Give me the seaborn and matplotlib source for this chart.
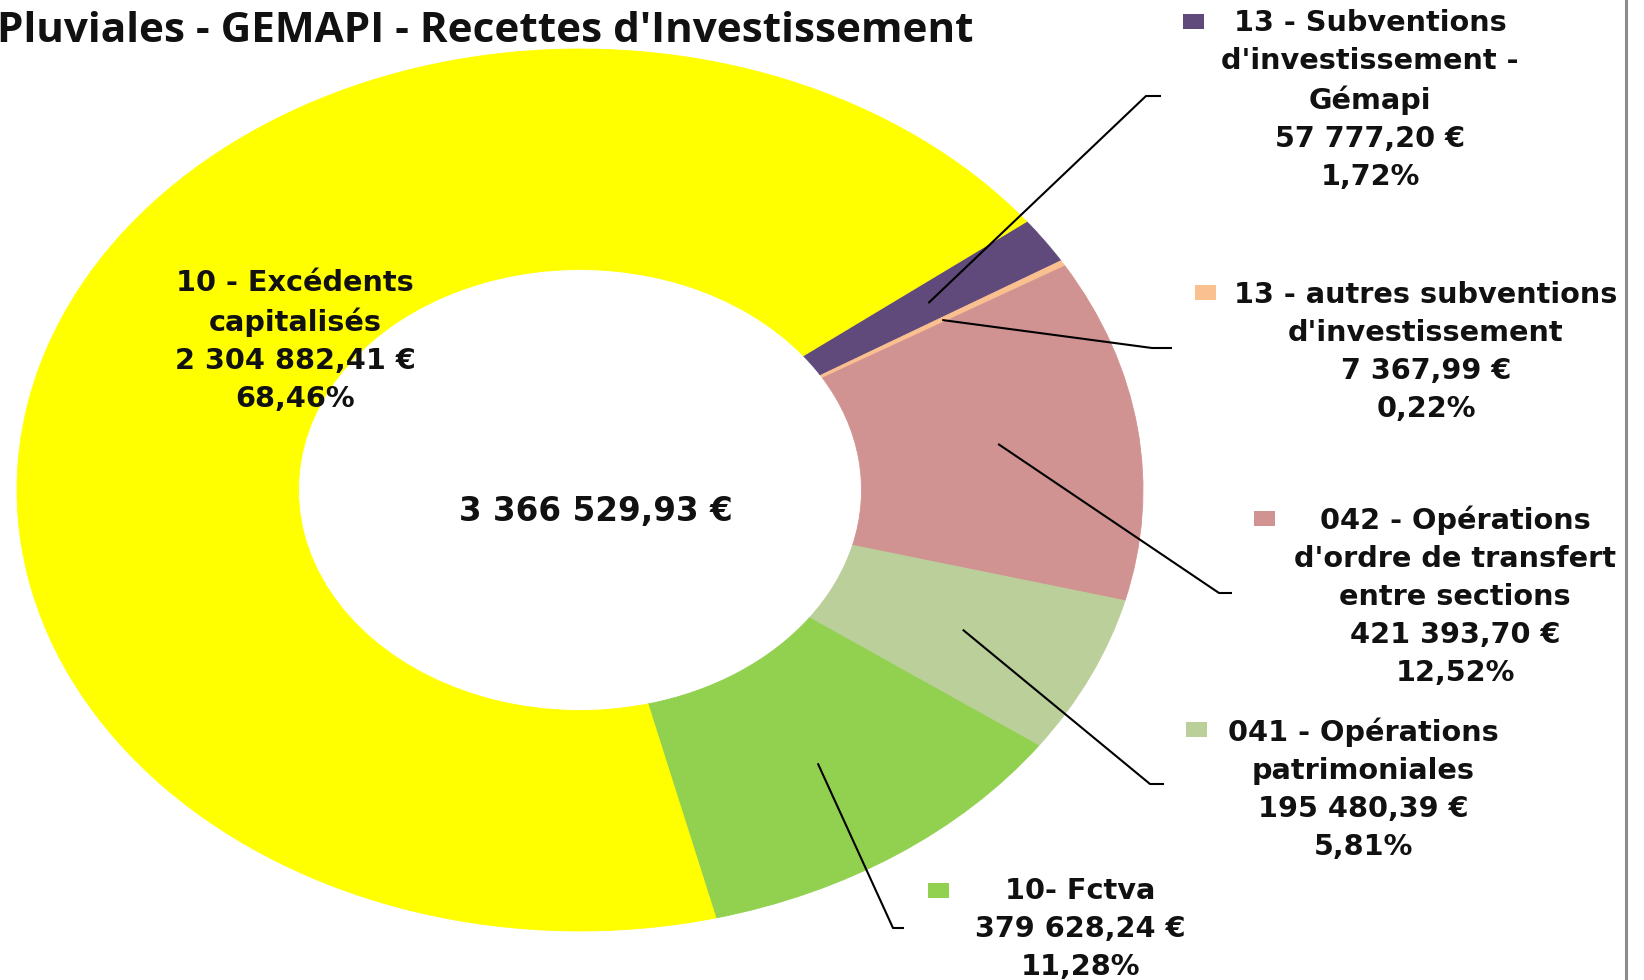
import numpy as np
import matplotlib
matplotlib.use('Agg')
import matplotlib.pyplot as plt
from matplotlib.lines import Line2D
from matplotlib.patches import Rectangle
import seaborn as sns

# données (ordre horaire à partir de 1h30)
categories = ["13 - Subventions\nd'investissement -\nGémapi",
              "13 - autres subventions\nd'investissement",
              "042 - Opérations\nd'ordre de transfert\nentre sections",
              "041 - Opérations\npatrimoniales",
              "10- Fctva",
              "10 - Excédents\ncapitalisés"]
montants = [57777.20, 7367.99, 421393.70, 195480.39, 379628.24, 2304882.41]
couleurs = ['#604A7B', '#FAC090', '#D19392', '#BACF99', '#92D050', '#FFFF00']
titre = "Pluviales - GEMAPI - Recettes d'Investissement"

# position des étiquettes (pixels, origine en haut à gauche)
lab_xy = [(1370, 100), (1426, 352), (1455, 596), (1363, 789), (1080, 929), (295, 341)]
key_xy = [(1183, 14), (1195, 285), (1254, 511), (1186, 722), (928, 883), None]
coude = [((1146, 96), (1161, 96)), ((1152, 348), (1172, 348)), ((1219, 593), (1232, 593)),
         ((1150, 784), (1164, 784)), ((893, 928), (904, 928)), None]

W, H = 1644, 980
sns.set_theme(style="white")
plt.rcParams['font.family'] = ['DejaVu Sans']

def fr_eur(v):
    s = f"{v:,.2f}".replace(",", " ").replace(".", ",")
    return s + " €"

total = sum(montants)
parts = [m / total * 100 for m in montants]

fig = plt.figure(figsize=(W / 100, H / 100), dpi=100)
ax = fig.add_axes([0, 0, 1, 1])
wedges, _ = ax.pie(montants, colors=couleurs, startangle=37.5, counterclock=False,
                   radius=1, wedgeprops=dict(width=0.5, linewidth=0.6))
for w in wedges:
    w.set_edgecolor(w.get_facecolor())

# ellipse étirée comme dans l'original
cx, cy, rx, ry = 580, 490, 563, 441
ax.set_aspect('auto')
ax.set_xlim(-cx / rx, (W - cx) / rx)
ax.set_ylim(-(H - cy) / ry, cy / ry)
ax.axis('off')

def px2data(p):
    return ((p[0] - cx) / rx, (cy - p[1]) / ry)

for i, w in enumerate(wedges):
    txt = f"{categories[i]}\n{fr_eur(montants[i])}\n{parts[i]:.2f}%".replace(".", ",")
    lx, ly = lab_xy[i]
    fig.text(lx / W, 1 - ly / H, txt, ha='center', va='center', multialignment='center',
             fontsize=20.7, fontweight='bold', linespacing=1.45, color='#111111')
    if key_xy[i] is not None:
        kx, ky = key_xy[i]
        fig.add_artist(Rectangle((kx / W, 1 - (ky + 15) / H), 21 / W, 15 / H,
                                 transform=fig.transFigure, color=couleurs[i], lw=0))
    if coude[i] is not None:
        ang = np.deg2rad((w.theta1 + w.theta2) / 2)
        ax_, ay_ = 0.75 * np.cos(ang), 0.75 * np.sin(ang)
        (ex, ey), (fx, fy) = px2data(coude[i][0]), px2data(coude[i][1])
        ax.plot([ax_, ex, fx], [ay_, ey, fy], color='black', lw=1.5, solid_capstyle='butt')

ax.text(*px2data((596, 511)), fr_eur(total), ha='center', va='center',
        fontsize=23.5, fontweight='bold', color='#111111')

fig.text(-3 / W, 1 - 42 / H, titre, ha='left', va='baseline', fontsize=30.4,
         fontweight='bold', family=['Open Sans', 'DejaVu Sans'], color='#111111')

fig.add_artist(Line2D([1626 / W, 1626 / W], [0, 1], transform=fig.transFigure,
                      color='#8C8C8C', lw=2.2))

fig.savefig('out.png', dpi=100, facecolor='white')
